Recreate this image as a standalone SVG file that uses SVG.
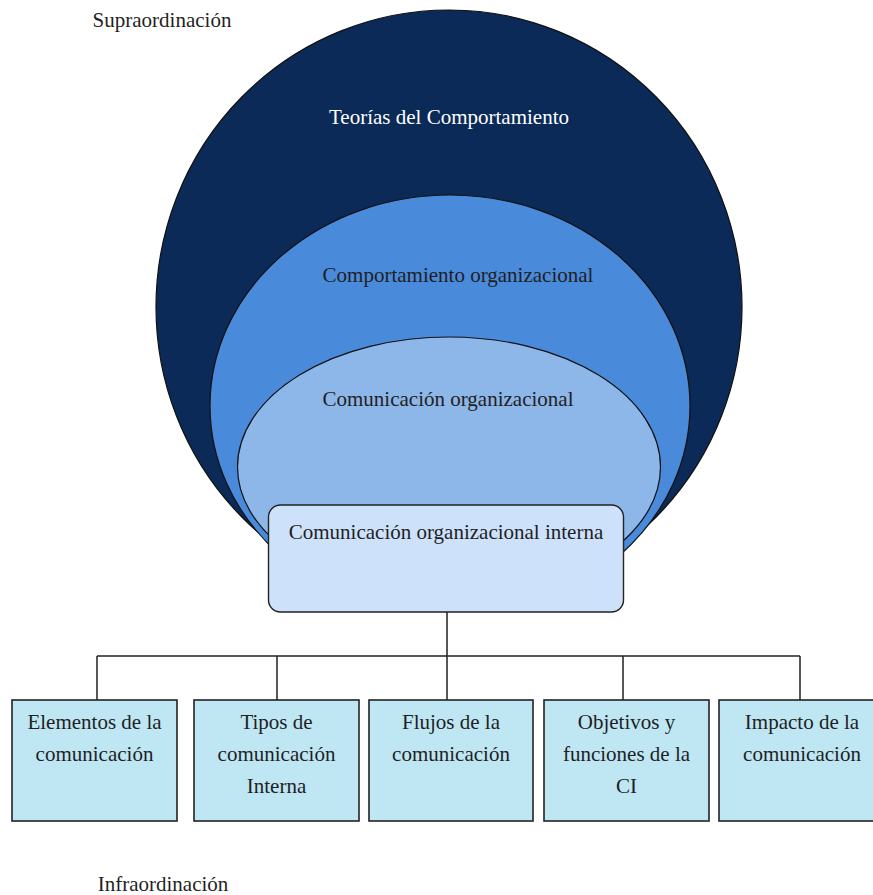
<svg xmlns="http://www.w3.org/2000/svg" width="873" height="895" viewBox="0 0 873 895">
  <style>
    text { font-family: "Liberation Serif", "Times New Roman", serif; font-size: 21px; fill: #1f1f24; text-anchor: middle; }
    .lvl { stroke: #111; stroke-width: 1.2; }
    .leaf rect { fill: #BEE6F3; stroke: #222; stroke-width: 1.6; }
    .wire { fill: none; stroke: #222; stroke-width: 1.5; }
  </style>
  <defs>
    <!-- the nested levels end under the rounded box -->
    <clipPath id="levels-clip">
      <rect x="0" y="0" width="873" height="600"/>
    </clipPath>
  </defs>
  <rect width="873" height="895" fill="#ffffff"/>

  <text x="162" y="27">Supraordinación</text>
  <text x="163" y="891">Infraordinación</text>

  <g clip-path="url(#levels-clip)">
    <g id="teorias">
      <ellipse class="lvl" cx="449" cy="307" rx="293" ry="297" fill="#0B2A57"/>
      <text x="449" y="124" style="fill:#ffffff">Teorías del Comportamiento</text>
    </g>

    <g id="comportamiento">
      <ellipse class="lvl" cx="450" cy="406" rx="240" ry="211" fill="#4A8ADB"/>
      <text x="458" y="282">Comportamiento organizacional</text>
    </g>

    <g id="comunicacion">
      <ellipse class="lvl" cx="449" cy="467" rx="211.5" ry="130" fill="#8DB6E9"/>
      <text x="448" y="406">Comunicación organizacional</text>
    </g>
  </g>

  <g id="interna">
    <rect x="268.5" y="505" width="355" height="107" rx="12" fill="#CDE2FA" stroke="#222" stroke-width="1.4"/>
    <text x="446" y="539">Comunicación organizacional interna</text>
  </g>

  <g id="connectors">
    <path class="wire" d="M447 612 V656 M97 656 H800 M97 656 V700 M277 656 V700 M447 656 V700 M623 656 V700 M800 656 V700"/>
  </g>

  <g id="elementos" class="leaf">
    <rect x="12" y="700" width="165" height="121"/>
    <text x="94.5" y="729">Elementos de la</text>
    <text x="94.5" y="761">comunicación</text>
  </g>

  <g id="tipos" class="leaf">
    <rect x="194" y="700" width="165" height="121"/>
    <text x="276.5" y="729">Tipos de</text>
    <text x="276.5" y="761">comunicación</text>
    <text x="276.5" y="793">Interna</text>
  </g>

  <g id="flujos" class="leaf">
    <rect x="369" y="700" width="164" height="121"/>
    <text x="451" y="729">Flujos de la</text>
    <text x="451" y="761">comunicación</text>
  </g>

  <g id="objetivos" class="leaf">
    <rect x="544" y="700" width="165" height="121"/>
    <text x="626.5" y="729">Objetivos y</text>
    <text x="626.5" y="761">funciones de la</text>
    <text x="626.5" y="793">CI</text>
  </g>

  <g id="impacto" class="leaf">
    <rect x="719" y="700" width="165" height="121"/>
    <text x="802" y="729">Impacto de la</text>
    <text x="802" y="761">comunicación</text>
  </g>
</svg>
